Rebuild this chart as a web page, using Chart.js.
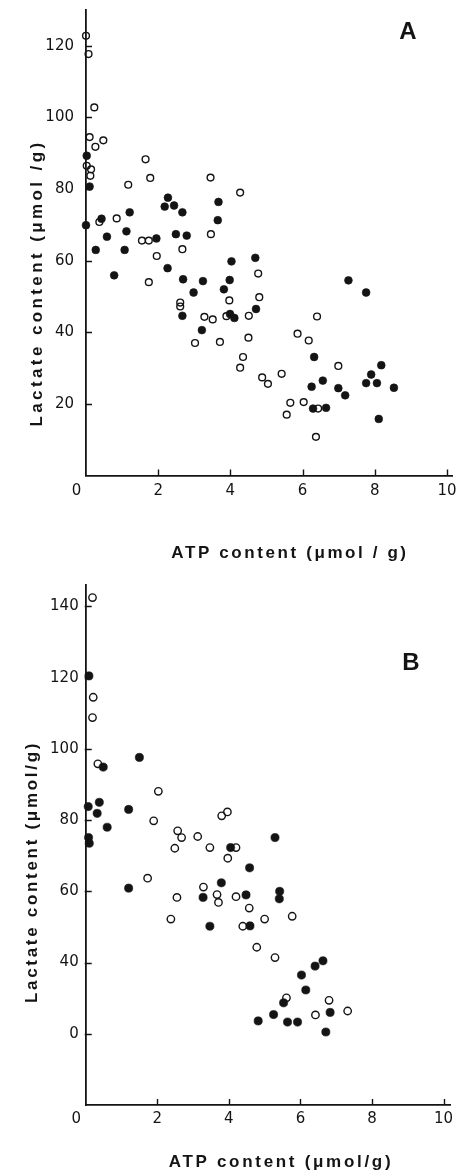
<!DOCTYPE html>
<html>
<head>
<meta charset="utf-8">
<title>Lactate vs ATP content</title>
<script src="https://cdn.jsdelivr.net/npm/chart.js@4.4.1/dist/chart.umd.min.js"></script>
<style>
  html, body { margin: 0; padding: 0; background: #fff; }
  body { width: 459px; height: 1171px; position: relative; overflow: hidden; }
  .panel { position: absolute; left: 0; }
  canvas { display: block; }
</style>
</head>
<body>
<div class="panel" style="top:0"><canvas id="chartA" width="459" height="580"></canvas></div>
<div class="panel" style="top:580px"><canvas id="chartB" width="459" height="591"></canvas></div>
<script>
// ---------- Panel A: ATP (µmol/g) vs lactate (µmol/g) ----------
const atpA_filled = [0.02, 0.1, 0.0, 0.43, 0.27, 1.21, 2.27, 2.18, 2.44, 2.67, 3.67, 3.65,
  0.58, 1.12, 1.95, 2.49, 2.79, 1.07, 0.78, 2.26, 2.69, 3.24, 2.98, 2.67, 3.21,
  4.03, 3.98, 3.82, 3.99, 4.11, 4.69, 4.71, 6.25, 6.56, 6.32, 6.29, 6.65, 7.27, 7.76,
  6.99, 7.18, 7.9, 8.18, 7.76, 8.06, 8.53, 8.11];
const lacA_filled = [89.3, 80.7, 69.9, 71.7, 63.0, 73.5, 77.6, 75.1, 75.4, 73.5, 76.4, 71.3,
  66.7, 68.2, 66.2, 67.4, 67.0, 63.0, 55.9, 57.9, 54.8, 54.3, 51.1, 44.6, 40.6,
  59.8, 54.6, 52.0, 45.1, 44.0, 60.8, 46.5, 24.8, 26.5, 33.1, 18.7, 18.9, 54.5, 51.1,
  24.4, 22.4, 28.2, 30.8, 25.8, 25.8, 24.5, 15.8];

const atpA_open = [0.0, 0.07, 0.23, 0.1, 0.48, 0.26, 0.02, 0.14, 0.12,
  1.65, 1.78, 1.17, 0.85, 0.37, 3.45, 1.55, 1.74, 3.46, 4.27,
  1.96, 1.74, 2.67, 2.61, 2.61, 3.28, 3.51, 3.02, 3.71,
  3.97, 3.89, 4.77, 4.8, 4.51, 4.5, 4.35, 4.27, 4.88, 5.04,
  5.42, 5.66, 5.56, 6.03, 6.43, 6.37, 5.86, 6.17, 6.4, 6.99];
const lacA_open = [122.8, 117.7, 102.8, 94.5, 93.6, 91.8, 86.5, 85.5, 83.7,
  88.3, 83.1, 81.2, 71.8, 70.8, 83.2, 65.6, 65.6, 67.4, 79.0,
  61.3, 54.0, 63.2, 48.3, 47.2, 44.3, 43.6, 37.0, 37.3,
  48.9, 44.5, 56.4, 49.8, 44.6, 38.5, 33.1, 30.1, 27.4, 25.6,
  28.4, 20.3, 17.0, 20.5, 18.7, 10.8, 39.6, 37.7, 44.4, 30.6];

// ---------- Panel B ----------
const atpB_filled = [0.09, 0.49, 1.5, 0.38, 0.07, 0.32, 1.2, 0.6, 0.08, 0.1, 1.2,
  4.05, 3.79, 3.28, 3.47, 5.29, 4.58, 4.48, 5.42, 5.41, 4.59,
  6.63, 6.41, 6.03, 6.15, 5.53, 6.83, 5.25, 4.82, 5.64, 5.92, 6.71];
const lacB_filled = [120.5, 94.9, 97.6, 85.0, 83.8, 81.9, 83.0, 78.0, 75.1, 73.5, 60.9,
  72.3, 62.4, 58.3, 50.2, 75.1, 66.6, 59.0, 60.0, 57.9, 50.3,
  40.5, 39.0, 36.5, 32.3, 28.7, 26.0, 25.4, 23.6, 23.3, 23.3, 20.5];

const atpB_open = [0.19, 0.21, 0.19, 0.34, 2.03, 1.9, 1.73,
  2.57, 2.68, 2.49, 3.13, 3.47, 3.8, 3.96, 3.97,
  2.55, 2.38, 3.29, 3.67, 3.71, 4.2, 4.2, 4.57, 5.0, 5.77,
  4.39, 4.78, 5.29, 5.61, 6.8, 7.32, 6.42];
const lacB_open = [142.5, 114.5, 108.8, 95.8, 88.1, 79.8, 63.7,
  77.0, 75.1, 72.1, 75.4, 72.3, 81.2, 82.3, 69.3,
  58.3, 52.2, 61.2, 59.1, 56.9, 72.3, 58.5, 55.3, 52.2, 53.0,
  50.2, 44.3, 41.4, 30.1, 29.4, 26.4, 25.3];

// ---------- Tick values and labels ----------
const xTickValues = [0, 2, 4, 6, 8, 10];
const xTickLabels = ['0', '2', '4', '6', '8', '10'];
const yTickValuesA = [20, 40, 60, 80, 100, 120];
const yTickLabelsA = ['20', '40', '60', '80', '100', '120'];
const yTickValuesB = [20, 40, 60, 80, 100, 120, 140];
const yTickLabelsB = ['0', '40', '60', '80', '100', '120', '140'];

const INK = '#141414';
const FIG_SPACE = '\u2007';

function pairs(xs, ys) { return xs.map((x, i) => ({ x: x, y: ys[i] })); }

// short tick marks pointing into the plot area
const inwardTicks = {
  id: 'inwardTicks',
  afterDraw(chart, args, o) {
    const { ctx, chartArea, scales } = chart;
    ctx.save();
    ctx.strokeStyle = INK;
    ctx.lineWidth = o.width;
    ctx.beginPath();
    scales.x.ticks.forEach(t => {
      if (t.value <= scales.x.min) return;
      const px = Math.round(scales.x.getPixelForValue(t.value)) + 0.5;
      ctx.moveTo(px, chartArea.bottom);
      ctx.lineTo(px, chartArea.bottom - o.len);
    });
    scales.y.ticks.forEach(t => {
      const py = Math.round(scales.y.getPixelForValue(t.value)) + 0.5;
      ctx.moveTo(chartArea.left - 1, py);
      ctx.lineTo(chartArea.left + o.len, py);
    });
    ctx.stroke();
    ctx.restore();
  }
};

// axis titles and the panel letter
const panelText = {
  id: 'panelText',
  afterDraw(chart, args, o) {
    const ctx = chart.ctx;
    ctx.save();
    ctx.fillStyle = INK;
    ctx.textAlign = 'center';
    ctx.textBaseline = 'middle';
    ctx.font = o.titleFont;
    ctx.letterSpacing = o.xSpacing + 'px';
    ctx.fillText(o.xTitle, o.xTitleAt[0], o.xTitleAt[1]);
    ctx.save();
    ctx.translate(o.yTitleAt[0], o.yTitleAt[1]);
    ctx.rotate(-Math.PI / 2);
    ctx.letterSpacing = o.ySpacing + 'px';
    ctx.fillText(o.yTitle, 0, 0);
    ctx.restore();
    ctx.letterSpacing = '0px';
    ctx.font = o.letterFont;
    ctx.fillText(o.letter, o.letterAt[0], o.letterAt[1]);
    ctx.restore();
  }
};

function makePanel(canvasId, p) {
  return new Chart(document.getElementById(canvasId), {
    type: 'scatter',
    data: {
      datasets: [
        {
          label: 'open',
          data: pairs(p.openX, p.openY),
          pointRadius: p.rOpen,
          pointBorderWidth: 1.4,
          pointBackgroundColor: 'rgba(255,255,255,0)',
          pointBorderColor: INK,
          pointHoverRadius: p.rOpen,
          showLine: false,
          clip: false
        },
        {
          label: 'filled',
          data: pairs(p.filledX, p.filledY),
          pointRadius: p.rFilled,
          pointBorderWidth: 0.6,
          pointBackgroundColor: INK,
          pointBorderColor: INK,
          pointHoverRadius: p.rFilled,
          showLine: false,
          clip: false
        }
      ]
    },
    options: {
      responsive: false,
      animation: false,
      devicePixelRatio: 1,
      events: [],
      layout: { padding: p.padding },
      plugins: {
        legend: { display: false },
        tooltip: { enabled: false },
        inwardTicks: { len: 6, width: 1.4 },
        panelText: p.text
      },
      scales: {
        x: {
          type: 'linear',
          min: 0,
          max: p.xMax,
          afterBuildTicks: s => { s.ticks = xTickValues.map(v => ({ value: v })); },
          afterFit: s => { s.height = p.xHeight; s.paddingLeft = 0; s.paddingRight = 0; },
          ticks: {
            autoSkip: false,
            maxRotation: 0,
            padding: p.xPad,
            color: INK,
            font: { family: 'DejaVu Sans', size: 15 },
            // the origin label sits a little left of the corner
            callback: (v, i) => i === 0 ? xTickLabels[i] + FIG_SPACE.repeat(2) : xTickLabels[i]
          },
          grid: { display: false, drawTicks: false },
          border: { display: true, color: INK, width: 1.8 }
        },
        y: {
          type: 'linear',
          min: 0,
          max: p.yMax,
          afterBuildTicks: s => { s.ticks = p.yTicks.map(v => ({ value: v })); },
          afterFit: s => { s.width = p.yWidth; s.paddingTop = 0; s.paddingBottom = 0; },
          ticks: {
            autoSkip: false,
            padding: p.yPad,
            color: INK,
            font: { family: 'DejaVu Sans', size: 15 },
            callback: (v, i) => p.yLabels[i]
          },
          grid: { display: false, drawTicks: false },
          border: { display: true, color: INK, width: 1.8 }
        }
      }
    },
    plugins: [inwardTicks, panelText]
  });
}

makePanel('chartA', {
  filledX: atpA_filled, filledY: lacA_filled,
  openX: atpA_open, openY: lacA_open,
  rOpen: 3.4, rFilled: 3.9,
  xMax: 10.15, yMax: 130,
  yTicks: yTickValuesA, yLabels: yTickLabelsA,
  padding: { left: 0, right: 6.6, top: 10, bottom: 0 },
  xHeight: 104.5, yWidth: 86,
  xPad: 7, yPad: 12,
  text: {
    titleFont: 'bold 17px "Liberation Sans"',
    xTitle: 'ATP content (\u03bcmol / g)', xTitleAt: [290, 553], xSpacing: 2.6,
    yTitle: 'Lactate content (\u03bcmol /g)', yTitleAt: [37, 283], ySpacing: 3.4,
    letterFont: 'bold 24px "Liberation Sans"', letter: 'A', letterAt: [408, 32]
  }
});

makePanel('chartB', {
  filledX: atpB_filled, filledY: lacB_filled,
  openX: atpB_open, openY: lacB_open,
  rOpen: 3.7, rFilled: 4.1,
  xMax: 10.18, yMax: 146,
  yTicks: yTickValuesB, yLabels: yTickLabelsB,
  padding: { left: 0, right: 9, top: 2, bottom: 0 },
  xHeight: 66, yWidth: 85.7,
  xPad: 5, yPad: 7,
  text: {
    titleFont: 'bold 17px "Liberation Sans"',
    xTitle: 'ATP content (\u03bcmol/g)', xTitleAt: [281, 582], xSpacing: 2.7,
    yTitle: 'Lactate content (\u03bcmol/g)', yTitleAt: [32, 292], ySpacing: 2.7,
    letterFont: 'bold 24px "Liberation Sans"', letter: 'B', letterAt: [411, 83]
  }
});
</script>
</body>
</html>
